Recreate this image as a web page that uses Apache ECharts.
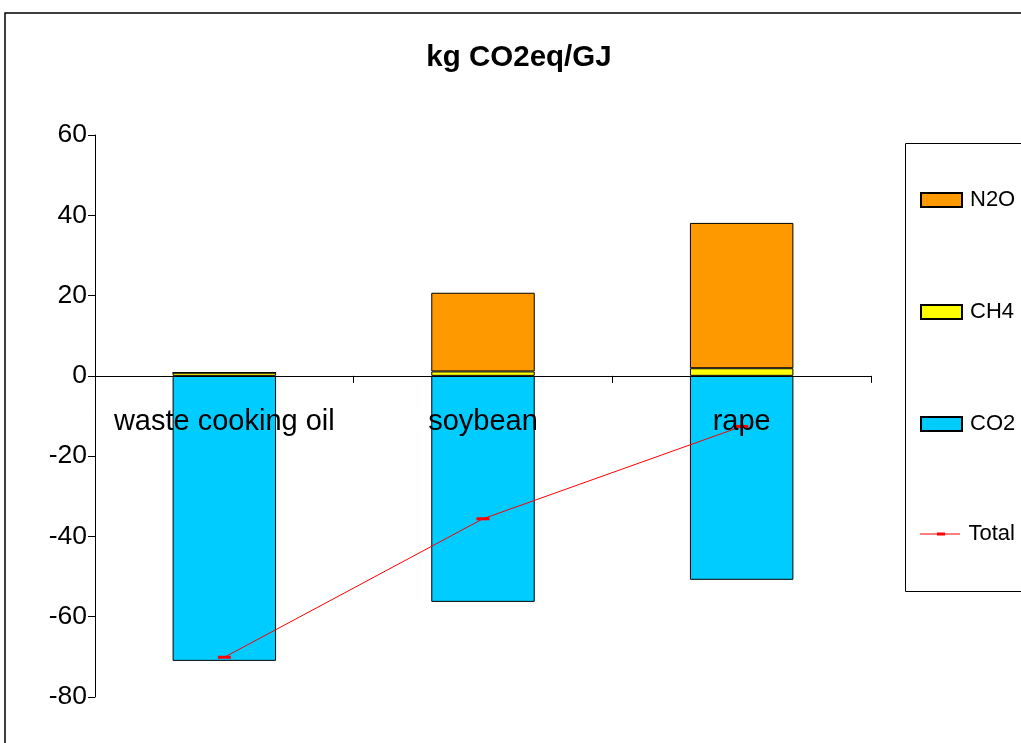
<!DOCTYPE html>
<html>
<head>
<meta charset="utf-8">
<title>kg CO2eq/GJ</title>
<script src="https://cdn.jsdelivr.net/npm/echarts@6/dist/echarts.min.js"></script>
<style>
  html, body { margin: 0; padding: 0; background: #fff; }
  #chart { width: 1021px; height: 743px; }
</style>
</head>
<body>
<div id="chart"></div>
<script>
// Feedstocks compared
const categories = ['waste cooking oil', 'soybean', 'rape'];

// Emissions by gas, kg CO2eq per GJ
const co2 = [-71.0, -56.3, -50.8];
const ch4 = [0.8, 1.1, 1.9];
const n2o = [0.0, 19.6, 36.2];
const total = [-70.1, -35.6, -12.6];

// Value axis ticks
const yMin = -80;
const yMax = 60;
const yStep = 20;

const FONT = '"Liberation Sans", Arial, sans-serif';

// Plot area in pixels
const GRID_TOP = 135;
const GRID_BOTTOM = 46;
const CHART_H = 743;
const plotH = CHART_H - GRID_TOP - GRID_BOTTOM;
// Category axis sits on the zero line of the value scale
const zeroOffset = -((0 - yMin) / (yMax - yMin)) * plotH;

const chart = echarts.init(document.getElementById('chart'), null, { renderer: 'canvas' });

const legendItem = (name, top, extra) => Object.assign({
  data: [{ name: name, icon: 'rect' }],
  left: 920,
  top: top,
  orient: 'vertical',
  itemWidth: 41,
  itemHeight: 14,
  padding: 0,
  textStyle: { fontFamily: FONT, fontSize: 22, color: '#000', padding: [0, 0, 0, 3] },
  selectedMode: false
}, extra || {});

const barStyle = (color) => ({ color: color, borderColor: '#000', borderWidth: 1 });

chart.setOption({
  backgroundColor: '#fff',
  animation: false,
  textStyle: { fontFamily: FONT },
  title: {
    text: 'kg CO2eq/GJ',
    left: 514,
    top: 38,
    textAlign: 'center',
    textStyle: { fontFamily: FONT, fontSize: 29.5, fontWeight: 'bold', color: '#000' }
  },
  graphic: [
    {
      type: 'rect',
      shape: { x: 5, y: 13, width: 1100, height: 800 },
      style: { fill: 'none', stroke: '#000', lineWidth: 1.5 },
      z: -10
    },
    {
      type: 'rect',
      shape: { x: 905.5, y: 143.5, width: 200, height: 448 },
      style: { fill: '#fff', stroke: '#000', lineWidth: 1 },
      z: -5
    }
  ],
  legend: [
    legendItem('N2O', 189),
    legendItem('CH4', 301),
    legendItem('CO2', 413),
    legendItem('Total', 523, {
      data: [{ name: 'Total', icon: 'path://M0,1h40v1h-40z M17,0h8v3h-8z' }],
      itemHeight: 3
    })
  ],
  grid: {
    left: 95, right: 150, top: GRID_TOP, bottom: GRID_BOTTOM,
    containLabel: false, outerBoundsMode: 'none'
  },
  xAxis: {
    type: 'category',
    data: categories,
    z: 10,
    offset: zeroOffset,
    axisLine: { onZero: false, lineStyle: { color: '#000', width: 1 } },
    axisTick: { show: true, alignWithLabel: false, length: 7, lineStyle: { color: '#000' } },
    axisLabel: { fontFamily: FONT, fontSize: 29, color: '#000', margin: 32, interval: 0 },
    splitLine: { show: false }
  },
  yAxis: {
    type: 'value',
    min: yMin,
    max: yMax,
    interval: yStep,
    axisLine: { show: true, lineStyle: { color: '#000', width: 1 } },
    axisTick: { show: true, length: 7, lineStyle: { color: '#000' } },
    axisLabel: { fontFamily: FONT, fontSize: 26.5, color: '#000', margin: 8 },
    splitLine: { show: false }
  },
  series: [
    {
      name: 'CO2', type: 'bar', stack: 'gas', data: co2,
      barCategoryGap: '60%', itemStyle: barStyle('#00CCFF')
    },
    {
      name: 'CH4', type: 'bar', stack: 'gas', data: ch4,
      itemStyle: barStyle('#FFFF00')
    },
    {
      name: 'N2O', type: 'bar', stack: 'gas', data: n2o,
      itemStyle: barStyle('#FF9900')
    },
    {
      name: 'Total', type: 'line', data: total, z: 5,
      symbol: 'rect', symbolSize: [13, 3], showSymbol: true,
      lineStyle: { color: '#FF0000', width: 1 },
      itemStyle: { color: '#FF0000' }
    }
  ]
});
</script>
</body>
</html>
